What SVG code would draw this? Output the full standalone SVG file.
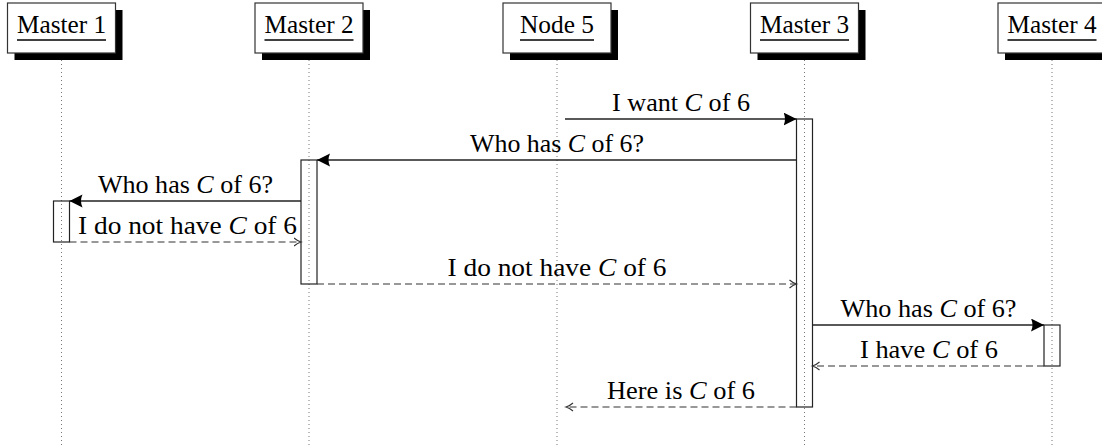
<svg xmlns="http://www.w3.org/2000/svg" width="1102" height="448" viewBox="0 0 1102 448">
  <defs>
    <style>
      text { font-family: "Liberation Serif", "DejaVu Serif", "Times New Roman", serif; font-size: 25px; fill: #000; }
      .title { text-anchor: middle; }
      .lbl { text-anchor: middle; }
      .it { font-style: italic; }
      .shadow { fill: #000; }
      .box { fill: #fff; stroke: #333; stroke-width: 1.2; }
      .uline { stroke: #000; stroke-width: 1.3; }
      .life { stroke: #777; stroke-width: 1; stroke-dasharray: 1 3; fill: none; }
      .act { fill: none; stroke: #222; stroke-width: 1.2; }
      .call { stroke: #222; stroke-width: 1.3; fill: none; marker-end: url(#solid); }
      .ret { stroke: #333; stroke-width: 1.2; fill: none; stroke-dasharray: 7 4; marker-end: url(#open); }
    </style>
    <marker id="solid" markerUnits="userSpaceOnUse" markerWidth="14" markerHeight="14" refX="13" refY="6.5" orient="auto">
      <path d="M0,0 Q3,6.5 0,13 L13,6.5 Z" fill="#000" stroke="none"/>
    </marker>
    <marker id="open" markerUnits="userSpaceOnUse" markerWidth="10" markerHeight="12" refX="7.5" refY="5" orient="auto">
      <path d="M0.5,1 Q4,4 7.5,5 Q4,6 0.5,9" fill="none" stroke="#333" stroke-width="1.1" stroke-dasharray="none"/>
    </marker>
  </defs>

  <rect width="1102" height="448" fill="#fff"/>

  <!-- lifelines -->
  <g id="lifelines">
    <line class="life" x1="61.5" y1="60" x2="61.5" y2="448"/>
    <line class="life" x1="309" y1="60" x2="309" y2="448"/>
    <line class="life" x1="557" y1="60" x2="557" y2="448"/>
    <line class="life" x1="804.5" y1="60" x2="804.5" y2="448"/>
    <line class="life" x1="1052" y1="60" x2="1052" y2="448"/>
  </g>

  <!-- participants -->
  <g id="master1">
    <rect class="shadow" x="14.5" y="10" width="108" height="50"/>
    <rect class="box" x="7.5" y="3" width="108" height="50"/>
    <text class="title" x="61.5" y="33" textLength="89" lengthAdjust="spacingAndGlyphs">Master 1</text>
    <line class="uline" x1="17" y1="40" x2="106" y2="40"/>
  </g>
  <g id="master2">
    <rect class="shadow" x="262" y="10" width="108" height="50"/>
    <rect class="box" x="255" y="3" width="108" height="50"/>
    <text class="title" x="309" y="33" textLength="89" lengthAdjust="spacingAndGlyphs">Master 2</text>
    <line class="uline" x1="264.5" y1="40" x2="353.5" y2="40"/>
  </g>
  <g id="node5">
    <rect class="shadow" x="510" y="10" width="108" height="50"/>
    <rect class="box" x="503" y="3" width="108" height="50"/>
    <text class="title" x="557" y="33" textLength="74" lengthAdjust="spacingAndGlyphs">Node 5</text>
    <line class="uline" x1="520" y1="40" x2="594" y2="40"/>
  </g>
  <g id="master3">
    <rect class="shadow" x="757.5" y="10" width="108" height="50"/>
    <rect class="box" x="750.5" y="3" width="108" height="50"/>
    <text class="title" x="804.5" y="33" textLength="89" lengthAdjust="spacingAndGlyphs">Master 3</text>
    <line class="uline" x1="760" y1="40" x2="849" y2="40"/>
  </g>
  <g id="master4">
    <rect class="shadow" x="1005" y="10" width="108" height="50"/>
    <rect class="box" x="998" y="3" width="108" height="50"/>
    <text class="title" x="1052" y="33" textLength="89" lengthAdjust="spacingAndGlyphs">Master 4</text>
    <line class="uline" x1="1007.5" y1="40" x2="1096.5" y2="40"/>
  </g>

  <!-- activation bars -->
  <g id="activations">
    <rect class="act" x="53.5" y="201" width="16" height="41"/>
    <rect class="act" x="301" y="160" width="16" height="124"/>
    <rect class="act" x="796.5" y="119" width="16" height="288"/>
    <rect class="act" x="1044" y="325" width="16" height="41"/>
  </g>

  <!-- messages -->
  <g id="connectors">
    <path class="call" d="M565,119 H796.5"/>
    <path class="call" d="M796.5,160 H317"/>
    <path class="call" d="M301,201 H69.5"/>
    <path class="ret" d="M69.5,242 H301"/>
    <path class="ret" d="M317,284 H796.5"/>
    <path class="call" d="M812.5,325 H1044"/>
    <path class="ret" d="M1044,366 H812.5"/>
    <path class="ret" d="M796.5,407 H566"/>
  </g>

  <!-- message labels -->
  <g id="labels">
    <text class="lbl" x="681" y="111" textLength="138" lengthAdjust="spacingAndGlyphs">I want <tspan class="it">C</tspan> of 6</text>
    <text class="lbl" x="557" y="152" textLength="174" lengthAdjust="spacingAndGlyphs">Who has <tspan class="it">C</tspan> of 6?</text>
    <text class="lbl" x="185.5" y="193" textLength="175" lengthAdjust="spacingAndGlyphs">Who has <tspan class="it">C</tspan> of 6?</text>
    <text class="lbl" x="187.5" y="234" textLength="219" lengthAdjust="spacingAndGlyphs">I do not have <tspan class="it">C</tspan> of 6</text>
    <text class="lbl" x="557" y="276" textLength="219" lengthAdjust="spacingAndGlyphs">I do not have <tspan class="it">C</tspan> of 6</text>
    <text class="lbl" x="928.5" y="317" textLength="176" lengthAdjust="spacingAndGlyphs">Who has <tspan class="it">C</tspan> of 6?</text>
    <text class="lbl" x="929" y="358" textLength="138" lengthAdjust="spacingAndGlyphs">I have <tspan class="it">C</tspan> of 6</text>
    <text class="lbl" x="681" y="399" textLength="148" lengthAdjust="spacingAndGlyphs">Here is <tspan class="it">C</tspan> of 6</text>
  </g>
</svg>
